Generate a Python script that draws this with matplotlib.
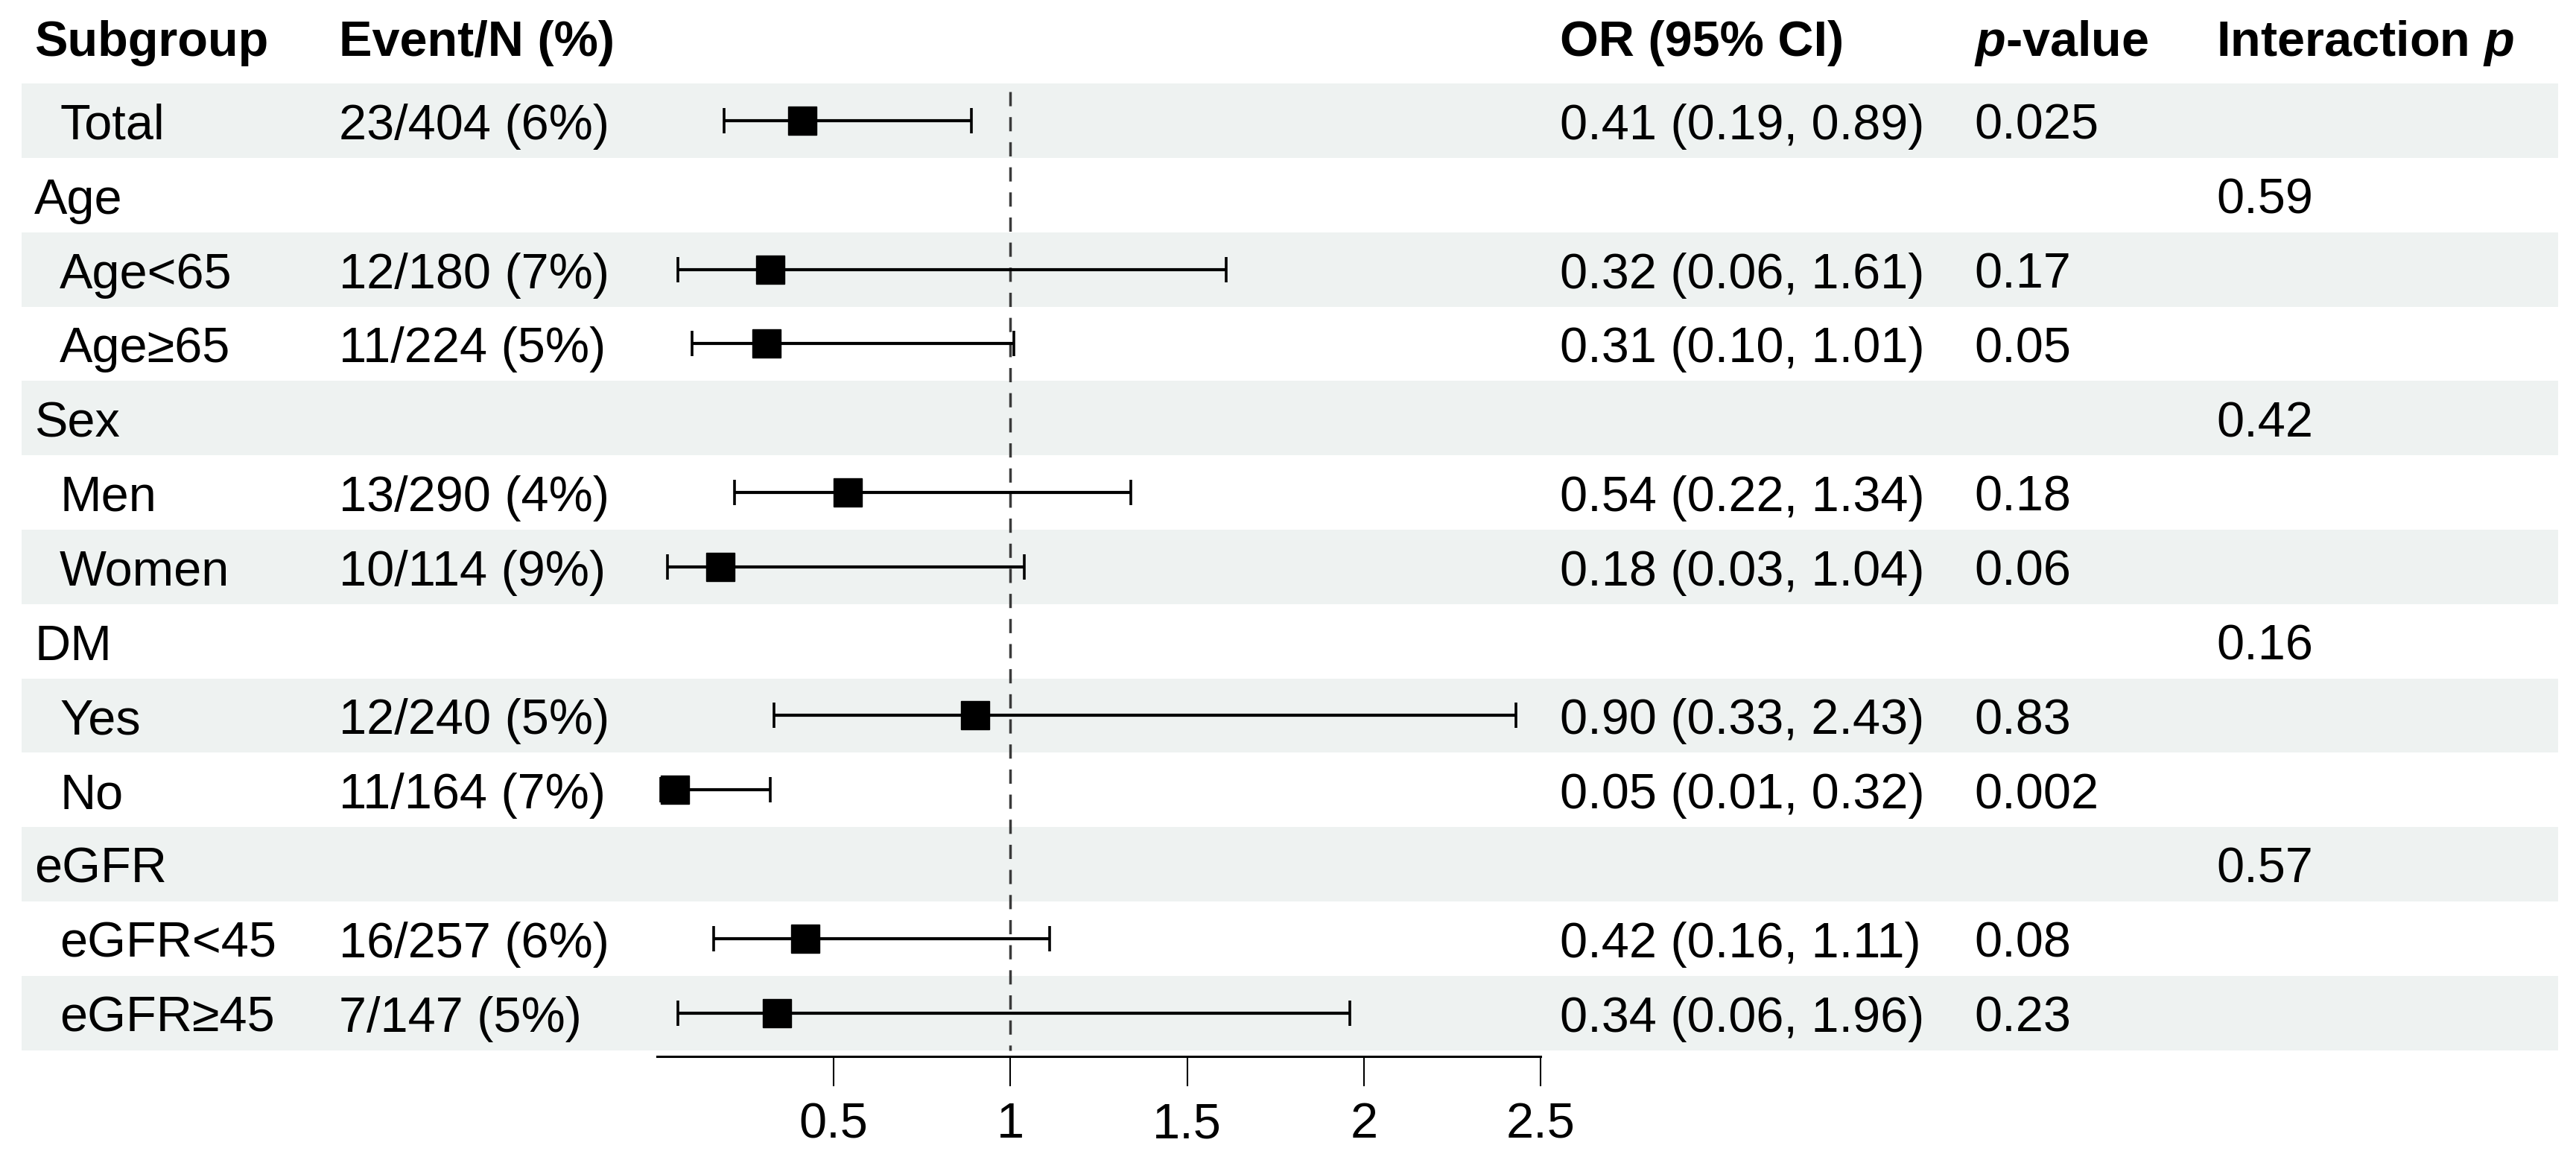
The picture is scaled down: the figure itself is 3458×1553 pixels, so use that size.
import numpy as np
import matplotlib
matplotlib.use("Agg")
import matplotlib.pyplot as plt

plt.rcParams['font.family'] = ['Liberation Sans', 'DejaVu Sans']
plt.rcParams['mathtext.fontset'] = 'custom'
plt.rcParams['mathtext.bfit'] = 'Liberation Sans:italic:bold'
plt.rcParams['mathtext.it'] = 'Liberation Sans:italic'

# data
labels = ["Total", "Age", "Age<65", "Age≥65", "Sex", "Men", "Women",
          "DM", "Yes", "No", "eGFR", "eGFR<45", "eGFR≥45"]
is_group = [False, True, False, False, True, False, False,
            True, False, False, True, False, False]
events = ["23/404 (6%)", "", "12/180 (7%)", "11/224 (5%)", "", "13/290 (4%)",
          "10/114 (9%)", "", "12/240 (5%)", "11/164 (7%)", "", "16/257 (6%)",
          "7/147 (5%)"]
odds = [0.41, np.nan, 0.32, 0.31, np.nan, 0.54, 0.18,
        np.nan, 0.90, 0.05, np.nan, 0.42, 0.34]
ci_low = [0.19, np.nan, 0.06, 0.10, np.nan, 0.22, 0.03,
          np.nan, 0.33, 0.01, np.nan, 0.16, 0.06]
ci_high = [0.89, np.nan, 1.61, 1.01, np.nan, 1.34, 1.04,
           np.nan, 2.43, 0.32, np.nan, 1.11, 1.96]
pvals = ["0.025", "", "0.17", "0.05", "", "0.18", "0.06",
         "", "0.83", "0.002", "", "0.08", "0.23"]
p_inter = ["", "0.59", "", "", "0.42", "", "", "0.16", "", "", "0.57", "", ""]
xticks = [0.5, 1, 1.5, 2, 2.5]

W, H = 3458, 1553
fig = plt.figure(figsize=(W / 100, H / 100), dpi=100)
ax = fig.add_axes([0, 0, 1, 1])

# pixel layout -> data units
x0px, unit = 882, 474.5       # OR=0 at x0px, px per OR unit
row0, rowh = 162, 99.8        # first row center, row height
ax.set_xlim(-x0px / unit, (W - x0px) / unit)
ax.set_ylim((H - row0) / rowh, -row0 / rowh)

n = len(labels)
rows = np.arange(n)
fs = 48

# alternating bands
for i in range(0, n, 2):
    ax.axhspan(i - 0.5, i + 0.5, xmin=29 / W, xmax=3434 / W,
               color='#eef2f1', lw=0, zorder=0)

# reference line
ax.vlines(1, -0.39, n - 0.5, colors='#3a3a3a', lw=2.5,
          linestyles=(0, (5.5, 4.2)), zorder=1)

# estimates with CI
o = np.array(odds)
lo = np.array(ci_low)
hi = np.array(ci_high)
ax.errorbar(o, rows, xerr=[o - lo, hi - o], fmt='none', ecolor='black',
            elinewidth=3, capsize=12, capthick=2.6, zorder=2)
ax.plot(o, rows, 's', color='black', ms=27, zorder=3)

# axis
for s in ['top', 'left', 'right']:
    ax.spines[s].set_visible(False)
ax.spines['bottom'].set_position(('data', (1418 - row0) / rowh))
ax.spines['bottom'].set_bounds(0, 2.5)
ax.spines['bottom'].set_linewidth(2.2)
ax.set_xticks(xticks)
ax.set_xticklabels([f"{t:g}" for t in xticks])
ax.tick_params(axis='x', direction='out', length=29, width=1.5, pad=15,
               labelsize=fs)
ax.set_yticks([])

tr = ax.get_yaxis_transform()
col_sub, col_ind, col_ev = 46 / W, 80 / W, 455 / W
col_or, col_p, col_int = 2094 / W, 2650 / W, 2975 / W

# header
hy = (75 - row0) / rowh
hdr = dict(transform=tr, fontsize=fs, fontweight='bold', va='baseline')
ax.text(col_sub, hy, "Subgroup", **hdr)
ax.text(col_ev, hy, "Event/N (%)", **hdr)
ax.text(col_or, hy, "OR (95% CI)", **hdr)
ax.text(col_p, hy, r"$\mathbfit{p}$-value", **hdr)
ax.text(col_int, hy, r"Interaction $\mathbfit{p}$", **hdr)

# table rows
txt = dict(transform=tr, fontsize=fs, va='baseline')
for i in range(n):
    y = i + 0.25
    ax.text(col_sub if is_group[i] else col_ind, y, labels[i], **txt)
    ax.text(col_ev, y, events[i], **txt)
    if not np.isnan(odds[i]):
        ax.text(col_or, y, f"{odds[i]:.2f} ({ci_low[i]:.2f}, {ci_high[i]:.2f})", **txt)
    ax.text(col_p, y, pvals[i], **txt)
    ax.text(col_int, y, p_inter[i], **txt)

fig.savefig("out.png", dpi=100)
